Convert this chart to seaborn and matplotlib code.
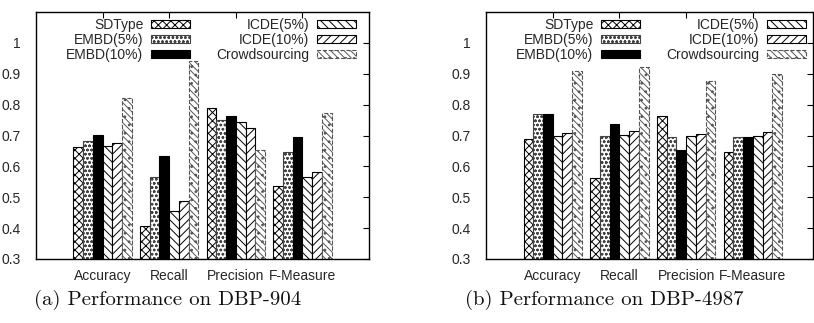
import matplotlib
matplotlib.use("Agg")
import matplotlib.pyplot as plt
import seaborn as sns
import pandas as pd

categories = ['Accuracy', 'Recall', 'Precision', 'F-Measure']
methods = ['SDType', 'EMBD(5%)', 'EMBD(10%)', 'ICDE(5%)', 'ICDE(10%)', 'Crowdsourcing']

# DBP-904
a_sdtype = [0.663, 0.406, 0.790, 0.537]
a_embd5 = [0.681, 0.567, 0.751, 0.647]
a_embd10 = [0.701, 0.635, 0.762, 0.694]
a_icde5 = [0.667, 0.456, 0.745, 0.567]
a_icde10 = [0.677, 0.488, 0.723, 0.583]
a_crowd = [0.822, 0.942, 0.654, 0.773]

# DBP-4987
b_sdtype = [0.690, 0.562, 0.762, 0.647]
b_embd5 = [0.770, 0.699, 0.694, 0.696]
b_embd10 = [0.770, 0.738, 0.653, 0.694]
b_icde5 = [0.699, 0.701, 0.697, 0.700]
b_icde10 = [0.709, 0.714, 0.706, 0.710]
b_crowd = [0.908, 0.921, 0.878, 0.898]

yticks = [0.3, 0.4, 0.5, 0.6, 0.7, 0.8, 0.9, 1.0]
ytick_labels = ['0.3', '0.4', '0.5', '0.6', '0.7', '0.8', '0.9', '1']
captions = ['(a) Performance on DBP-904', '(b) Performance on DBP-4987']

sns.set_theme(style='white')
plt.rcParams['font.family'] = ['Liberation Sans', 'DejaVu Sans']
plt.rcParams['hatch.linewidth'] = 0.7


def make_df(series):
    rows = []
    for m, vals in zip(methods, series):
        for c, v in zip(categories, vals):
            rows.append({'metric': c, 'method': m, 'value': v})
    return pd.DataFrame(rows)


styles = [
    dict(facecolor='white', edgecolor='black', hatch='xxxx', linestyle='-'),
    dict(facecolor='white', edgecolor='#444444', hatch='oooo', linestyle='-'),
    dict(facecolor='black', edgecolor='black', hatch=None, linestyle='-'),
    dict(facecolor='white', edgecolor='black', hatch='\\\\\\\\', linestyle='-'),
    dict(facecolor='white', edgecolor='black', hatch='////', linestyle='-'),
    dict(facecolor='white', edgecolor='#555555', hatch='\\\\\\\\\\..', linestyle='--'),
]

fig = plt.figure(figsize=(8.14, 3.23), dpi=100)
W, H = 814.0, 323.0
axes_boxes = [(36, 12, 333, 247), (486, 12, 327, 247)]
xlims = [(-1, 4), (-1, 3.9)]
legend_x = [(362 - 36) / 333, (812 - 486) / 327]
caption_x = [168, 604]
datasets = [
    [a_sdtype, a_embd5, a_embd10, a_icde5, a_icde10, a_crowd],
    [b_sdtype, b_embd5, b_embd10, b_icde5, b_icde10, b_crowd],
]

for i, (box, data) in enumerate(zip(axes_boxes, datasets)):
    x0, y0, w, h = box
    ax = fig.add_axes([x0 / W, 1 - (y0 + h) / H, w / W, h / H])
    df = make_df(data)
    sns.barplot(data=df, x='metric', y='value', hue='method', order=categories,
                hue_order=methods, width=0.875, ax=ax, legend=False,
                palette=['white'] * 6, saturation=1)
    for cont, st in zip(ax.containers, styles):
        for p in cont.patches:
            p.set_facecolor(st['facecolor'])
            p.set_edgecolor(st['edgecolor'])
            p.set_hatch(st['hatch'])
            p.set_linestyle(st['linestyle'])
            p.set_linewidth(0.8)
    ax.set_xlim(*xlims[i])
    ax.set_ylim(0.3, 1.1)
    ax.set_yticks(yticks)
    ax.set_yticklabels(ytick_labels)
    ax.set_xlabel('')
    ax.set_ylabel('')
    ax.tick_params(axis='both', direction='in', top=True, right=True,
                   length=4, width=0.8, labelsize=10, color='black')
    ax.tick_params(axis='y', pad=11)
    ax.tick_params(axis='x', pad=7)
    for s in ax.spines.values():
        s.set_visible(True)
        s.set_color('black')
        s.set_linewidth(1.0)
    ax.legend(handles=list(ax.containers), labels=methods, ncol=2,
              markerfirst=False, frameon=False, fontsize=10,
              loc='upper right', bbox_to_anchor=(legend_x[i], 1.0),
              borderaxespad=0.35, borderpad=0.1,
              handlelength=2.8, handleheight=0.5, handletextpad=0.55,
              labelspacing=0.05, columnspacing=1.9)
    fig.text(caption_x[i] / W, 1 - 300 / H, captions[i], family='cmr10',
             fontsize=15, ha='center', va='center', color='#111111')

fig.savefig('out.png', dpi=100)
